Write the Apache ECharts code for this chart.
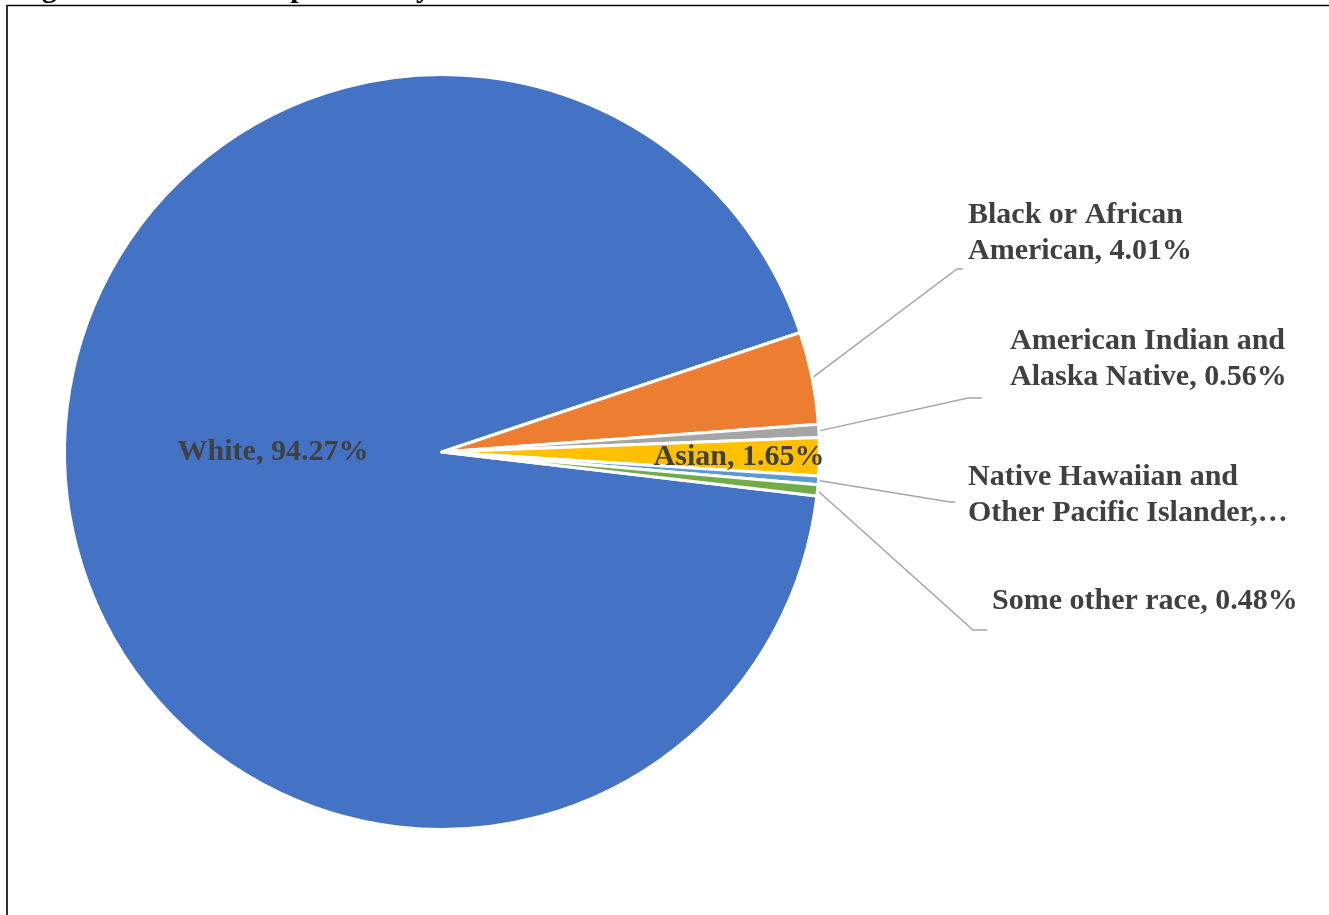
<!DOCTYPE html>
<html>
<head>
<meta charset="utf-8">
<script src="https://cdn.jsdelivr.net/npm/echarts@6/dist/echarts.min.js"></script>
<style>
html,body{margin:0;padding:0;background:#ffffff;}
#chart{width:1329px;height:915px;}
</style>
</head>
<body>
<div id="chart"></div>
<script>
// ---- data ----
const categories = [
  'White',
  'Black or African American',
  'American Indian and Alaska Native',
  'Asian',
  'Native Hawaiian and Other Pacific Islander',
  'Some other race'
];
const values = [94.27, 4.01, 0.56, 1.65, 0.38, 0.48];
const colors = ['#4472C4', '#ED7D31', '#A5A5A5', '#FFC000', '#5B9BD5', '#70AD47'];

// ---- layout / style ----
const CX = 442, CY = 452, R = 377.5, START = -6.7;
const FONT = "'Liberation Serif', 'DejaVu Serif', serif";
// label placement (annotation layout, not data)
const labelSpots = [
  { x: 273, y: 452, center: true },
  { x: 968, y: 197, w: 235, elbow: [957, 269], end: [963, 269] },
  { x: 1010, y: 323, w: 300, elbow: [968, 398], end: [982, 398] },
  { x: 739, y: 457, center: true },
  { x: 968, y: 459, w: 330, elide: true, elbow: [950, 502], end: [955, 502] },
  { x: 992, y: 583, w: 340, elbow: [973, 630], end: [987, 630] }
];

function edgePoint(i) {
  const total = values.reduce((a, b) => a + b, 0);
  let cum = 0;
  for (let k = 0; k < i; k++) cum += values[k];
  const mid = START - (cum + values[i] / 2) / total * 360;
  const rad = mid * Math.PI / 180;
  return [CX + R * Math.cos(rad), CY - R * Math.sin(rad)];
}

const seriesData = categories.map((name, i) => {
  const s = labelSpots[i];
  const item = {
    name: name,
    value: values[i],
    itemStyle: { color: colors[i] }
  };
  if (s.center) {
    item.label = { position: 'inside' };
    item.labelLine = { show: false };
  } else {
    item.label = { position: 'outside', width: s.w, overflow: 'break' };
    item.labelLine = { show: true };
  }
  return item;
});

const chart = echarts.init(document.getElementById('chart'), null, { renderer: 'canvas' });
chart.setOption({
  animation: false,
  backgroundColor: '#ffffff',
  graphic: [
    {
      type: 'text',
      left: 15,
      top: -26,
      style: {
        text: 'Figure 2: Racial Composition by Race',
        font: 'bold 30px ' + FONT,
        fill: '#000000'
      },
      z: 1
    },
    {
      type: 'rect',
      shape: { x: 7, y: 5.5, width: 1400, height: 1000 },
      style: { fill: 'none', stroke: '#000000', lineWidth: 1.6 },
      z: 2
    }
  ],
  series: [
    {
      type: 'pie',
      center: [CX, CY],
      radius: R,
      startAngle: START,
      clockwise: true,
      avoidLabelOverlap: false,
      silent: true,
      itemStyle: { borderColor: '#ffffff', borderWidth: 3 },
      label: {
        show: true,
        fontFamily: FONT,
        fontWeight: 'bold',
        fontSize: 30,
        lineHeight: 36,
        color: '#404040',
        formatter: function (p) {
          const s = labelSpots[p.dataIndex];
          if (s.elide) return p.name + ',\u2026';
          return p.name + ', ' + p.value.toFixed(2) + '%';
        }
      },
      labelLine: {
        show: true,
        lineStyle: { color: '#A6A6A6', width: 1.5 }
      },
      labelLayout: function (params) {
        const s = labelSpots[params.dataIndex];
        const out = {
          x: s.x,
          y: s.y,
          align: s.center ? 'center' : 'left',
          verticalAlign: s.center ? 'middle' : 'top'
        };
        if (!s.center) {
          const lp = params.labelLinePoints;
          const p0 = (lp && lp[0]) ? lp[0] : edgePoint(params.dataIndex);
          out.labelLinePoints = [p0, s.elbow, s.end];
        }
        return out;
      },
      emphasis: { disabled: true },
      data: seriesData
    }
  ]
});
</script>
</body>
</html>
